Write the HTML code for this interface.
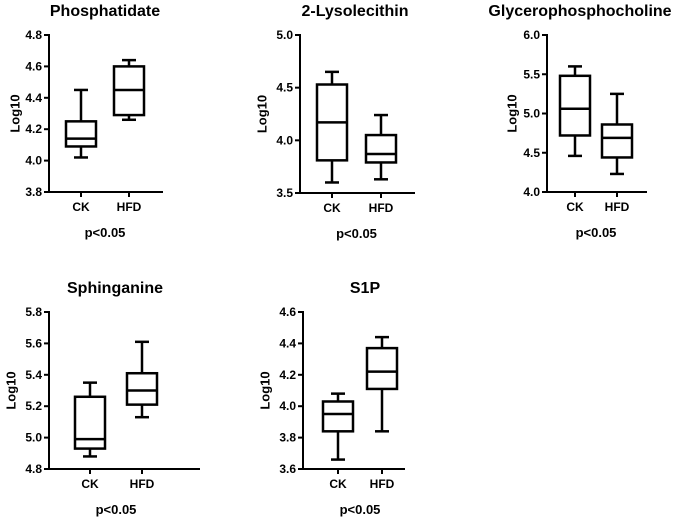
<!DOCTYPE html>
<html><head><meta charset="utf-8"><style>
body{margin:0;background:#fff;}
svg{display:block;font-family:"Liberation Sans",Arial,sans-serif;font-weight:bold;}
</style></head><body>
<svg id="c" width="680" height="519" viewBox="0 0 680 519"></svg>
<script>
const titles=["Phosphatidate","2-Lysolecithin","Glycerophosphocholine","Sphinganine","S1P"];
const groups=["CK","HFD"];
const ckStats=[[4.02,4.09,4.14,4.25,4.45],[3.60,3.81,4.17,4.53,4.65],[4.46,4.72,5.06,5.48,5.60],[4.88,4.93,4.99,5.26,5.35],[3.66,3.84,3.95,4.03,4.08]];
const hfdStats=[[4.26,4.29,4.45,4.60,4.64],[3.63,3.79,3.87,4.05,4.24],[4.23,4.44,4.69,4.86,5.25],[5.13,5.21,5.30,5.41,5.61],[3.84,4.11,4.22,4.37,4.44]];
const yTicks=[["3.8","4.0","4.2","4.4","4.6","4.8"],["3.5","4.0","4.5","5.0"],["4.0","4.5","5.0","5.5","6.0"],["4.8","5.0","5.2","5.4","5.6","5.8"],["3.6","3.8","4.0","4.2","4.4","4.6"]];
const pLabel="p<0.05";
const layout=[
 {ax:49,top:35,bot:192,end:163,xs:[81,129],tx:105,ty:16,ly:16},
 {ax:300,top:35,bot:193,end:415,xs:[332,381],tx:355,ty:16,ly:263},
 {ax:547,top:35,bot:192,end:647,xs:[575,617],tx:580,ty:16,ly:513},
 {ax:49,top:312,bot:469,end:200,xs:[90,142],tx:115,ty:293,ly:12},
 {ax:303,top:312,bot:469,end:405,xs:[338,382],tx:365,ty:293,ly:266}
];
const svg=document.getElementById('c');
const NS='http://www.w3.org/2000/svg';
function mk(t,a,p){const e=document.createElementNS(NS,t);for(const k in a)e.setAttribute(k,a[k]);(p||svg).appendChild(e);return e;}
titles.forEach((title,i)=>{
 const L=layout[i];const tk=yTicks[i];
 const lo=parseFloat(tk[0]),hi=parseFloat(tk[tk.length-1]);
 const y=v=>L.bot-(v-lo)/(hi-lo)*(L.bot-L.top);
 const g=mk('g',{});
 
 
 const t=mk('text',{x:L.tx,y:L.ty,'text-anchor':'middle','font-size':16,fill:'#000'},g);t.textContent=title;
 
 
 const yl=mk('text',{x:L.ly,y:(L.top+L.bot)/2,'text-anchor':'middle','font-size':13,transform:`rotate(-90 ${L.ly} ${(L.top+L.bot)/2})`,'dominant-baseline':'middle'},g);yl.textContent='Log10';
 
 
 const ax=mk('path',{d:`M${L.ax} ${L.top-1}V${L.bot}H${L.end}`,stroke:'#000','stroke-width':2,fill:'none'},g);
 
 
 tk.forEach(s=>{const v=parseFloat(s);const yy=y(v);
  mk('line',{x1:L.ax-5,x2:L.ax,y1:yy,y2:yy,stroke:'#000','stroke-width':2},g);
  const tt=mk('text',{x:L.ax-7,y:yy+4,'text-anchor':'end','font-size':12},g);tt.textContent=s;
  
  
 });
 [ckStats[i],hfdStats[i]].forEach((st,j)=>{
  const cx=L.xs[j];
  mk('line',{x1:cx,x2:cx,y1:L.bot,y2:L.bot+5,stroke:'#000','stroke-width':2},g);
  const gl=mk('text',{x:cx,y:L.bot+19,'text-anchor':'middle','font-size':12},g);gl.textContent=groups[j];
  
  
  const bx=mk('g',{stroke:'#000','stroke-width':2.5,fill:'none'},g);
  
  
  const w=15,c=7;
  mk('line',{x1:cx,x2:cx,y1:y(st[0]),y2:y(st[1])},bx);
  mk('line',{x1:cx,x2:cx,y1:y(st[3]),y2:y(st[4])},bx);
  mk('line',{x1:cx-c,x2:cx+c,y1:y(st[0]),y2:y(st[0])},bx);
  mk('line',{x1:cx-c,x2:cx+c,y1:y(st[4]),y2:y(st[4])},bx);
  mk('rect',{x:cx-w,y:y(st[3]),width:2*w,height:y(st[1])-y(st[3])},bx);
  mk('line',{x1:cx-w,x2:cx+w,y1:y(st[2]),y2:y(st[2])},bx);
 });
 const p=mk('text',{x:(L.xs[0]+L.xs[1])/2,y:L.bot+45,'text-anchor':'middle','font-size':13},g);p.textContent=pLabel;
 
 
});
</script>
</body></html>
